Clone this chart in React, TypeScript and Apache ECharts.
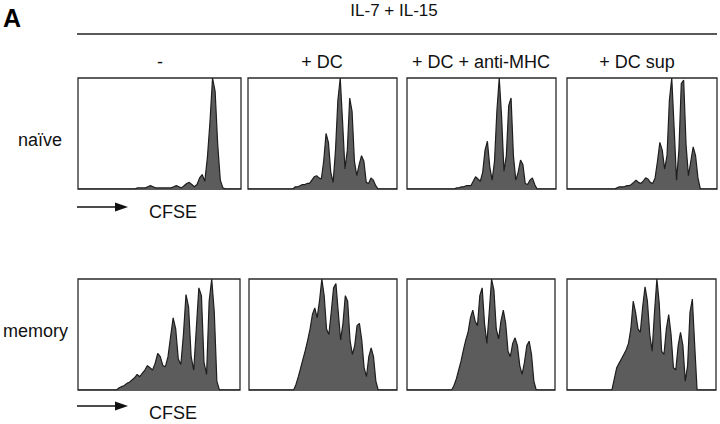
import React, { useEffect, useRef } from "react";
import * as echarts from "echarts";

// CFSE channel bins (categories)
const channels: string[] = Array.from({ length: 64 }, (_, i) => String(i));

const conditions = ["-", "+ DC", "+ DC + anti-MHC", "+ DC sup"];
const rowLabels = ["naïve", "memory"];
const headerLabel = "IL-7 + IL-15";
const panelLetter = "A";
const axisLabel = "CFSE";

// naïve row (cell counts, % of panel max)
const naiveNone = [
  0, 0, 0, 0, 0, 0, 0, 0, 0, 0, 0, 0, 0, 0, 0, 0, 0, 0, 0, 0, 0, 0, 0,
  1, 1, 1, 1, 2, 3, 2, 1, 1, 1, 1, 1, 1, 1, 2, 3, 2, 1, 3, 5, 6, 4, 2, 4, 10, 13, 7, 28, 60, 100, 88, 40, 8, 1,
  0, 0, 0, 0, 0, 0, 0,
];
const naiveDC = [
  0, 0, 0, 0, 0, 0, 0, 0, 0, 0, 0, 0, 0, 0, 0, 0, 0, 0, 0, 0,
  2, 2, 3, 4, 4, 5, 5, 8, 11, 12, 10, 9, 25, 50, 42, 15, 6, 35, 80, 100, 60, 18, 35, 82, 70, 25, 12, 22, 30, 25, 6, 5, 10, 8, 3,
  0, 0, 0, 0, 0, 0, 0, 0, 0,
];
const naiveDCantiMHC = [
  0, 0, 0, 0, 0, 0, 0, 0, 0, 0, 0, 0, 0, 0, 0, 0, 0, 0, 0, 0, 0,
  1, 1, 2, 2, 3, 3, 3, 7, 11, 9, 7, 15, 35, 43, 20, 8, 25, 70, 100, 65, 16, 30, 75, 82, 30, 8, 15, 26, 22, 5, 4, 8, 10, 4,
  0, 0, 0, 0, 0, 0, 0, 0, 0,
];
const naiveDCsup = [
  0, 0, 0, 0, 0, 0, 0, 0, 0, 0, 0, 0, 0, 0, 0, 0, 0, 0, 0, 0, 0,
  1, 2, 2, 2, 3, 3, 4, 6, 8, 6, 5, 7, 10, 9, 6, 5, 10, 25, 42, 35, 18, 30, 80, 100, 55, 8, 35, 95, 98, 40, 12, 25, 38, 30, 10,
  0, 0, 0, 0, 0, 0, 0, 0,
];

// memory row
const memoryNone = [
  0, 0, 0, 0, 0, 0, 0, 0, 0, 0, 0, 0, 0, 0, 0, 0,
  2, 3, 4, 6, 7, 9, 11, 14, 12, 15, 18, 22, 20, 18, 24, 33, 30, 22, 21, 30, 48, 65, 55, 28, 23, 50, 86, 75, 30, 18, 55, 92, 85, 25, 14, 80, 100, 70, 8,
  0, 0, 0, 0, 0, 0, 0, 0, 0,
];
const memoryDC = [
  0, 0, 0, 0, 0, 0, 0, 0, 0, 0, 0, 0, 0, 0, 0, 0, 0, 0, 0, 0,
  5, 12, 20, 28, 36, 45, 55, 68, 74, 65, 80, 100, 85, 55, 50, 70, 92, 96, 70, 45, 60, 85, 80, 45, 32, 40, 58, 60, 45, 20, 12, 30, 38, 30, 8,
  0, 0, 0, 0, 0, 0, 0, 0, 0,
];
const memoryDCantiMHC = [
  0, 0, 0, 0, 0, 0, 0, 0, 0, 0, 0, 0, 0, 0, 0, 0, 0, 0, 0, 0,
  4, 10, 18, 26, 36, 45, 52, 65, 72, 62, 58, 85, 92, 60, 42, 70, 100, 90, 55, 46, 62, 72, 60, 35, 30, 42, 47, 40, 22, 14, 25, 40, 44, 32, 8,
  0, 0, 0, 0, 0, 0, 0, 0, 0,
];
const memoryDCsup = [
  0, 0, 0, 0, 0, 0, 0, 0, 0, 0, 0, 0, 0, 0, 0, 0, 0, 0, 0, 0,
  10, 20, 24, 28, 32, 36, 42, 55, 80, 70, 55, 52, 75, 93, 80, 50, 35, 70, 100, 78, 35, 32, 55, 68, 50, 20, 18, 40, 52, 40, 8, 22, 70, 82, 40,
  0, 0, 0, 0, 0, 0, 0, 0, 0,
];

const panelData = [
  [naiveNone, naiveDC, naiveDCantiMHC, naiveDCsup],
  [memoryNone, memoryDC, memoryDCantiMHC, memoryDCsup],
];

// layout (pixels)
const rowTops = [78, 279];
const panelH = 111;
const colRects = [
  [
    [78, 163],
    [248, 149],
    [407, 149],
    [567, 150],
  ],
  [
    [78, 162],
    [249, 148],
    [407, 148],
    [567, 149],
  ],
];
const colCenters = [160, 322, 481, 637];

const FONT = '"Liberation Sans", Arial, Helvetica, sans-serif';

export default function App() {
  const ref = useRef<HTMLDivElement>(null);
  useEffect(() => {
    if (!ref.current) return;
    const chart = echarts.init(ref.current, null, { renderer: "svg" });
    const grids: any[] = [];
    const xAxes: any[] = [];
    const yAxes: any[] = [];
    const series: any[] = [];
    let k = 0;
    for (let r = 0; r < 2; r++) {
      for (let c = 0; c < 4; c++) {
        const [left, width] = colRects[r][c];
        grids.push({
          left,
          top: rowTops[r],
          width,
          height: panelH,
          show: true,
          borderColor: "#2a2a2a",
          borderWidth: 1.3,
          backgroundColor: "#ffffff",
        });
        xAxes.push({
          type: "category",
          gridIndex: k,
          data: channels,
          boundaryGap: false,
          show: false,
        });
        yAxes.push({ type: "value", gridIndex: k, min: 0, max: 100, show: false });
        series.push({
          type: "line",
          xAxisIndex: k,
          yAxisIndex: k,
          data: panelData[r][c],
          symbol: "none",
          silent: true,
          lineStyle: { color: "#1e1e1e", width: 1.2 },
          areaStyle: { color: "#5c5c5c", opacity: 1 },
        });
        k++;
      }
    }

    const graphics: any[] = [
      {
        type: "text",
        left: 3,
        top: 5,
        style: { text: panelLetter, font: `bold 25px ${FONT}`, fill: "#000" },
      },
      {
        type: "text",
        x: 394,
        y: 10,
        style: {
          text: headerLabel,
          font: `17px ${FONT}`,
          fill: "#111",
          textAlign: "center",
          textVerticalAlign: "middle",
        },
      },
      {
        type: "line",
        shape: { x1: 77, y1: 34, x2: 717, y2: 34 },
        style: { stroke: "#222", lineWidth: 1.5 },
      },
    ];
    conditions.forEach((t, i) => {
      graphics.push({
        type: "text",
        x: colCenters[i],
        y: 62,
        style: {
          text: t,
          font: `18px ${FONT}`,
          fill: "#111",
          textAlign: "center",
          textVerticalAlign: "middle",
        },
      });
    });
    const rowLabelPos = [
      [18, 140],
      [3, 331],
    ];
    rowLabels.forEach((t, i) => {
      graphics.push({
        type: "text",
        x: rowLabelPos[i][0],
        y: rowLabelPos[i][1],
        style: {
          text: t,
          font: `18px ${FONT}`,
          fill: "#111",
          textAlign: "left",
          textVerticalAlign: "middle",
        },
      });
    });
    const arrowY = [207, 406];
    const cfseY = [212, 413];
    for (let r = 0; r < 2; r++) {
      const y = arrowY[r];
      graphics.push({
        type: "line",
        shape: { x1: 77, y1: y, x2: 118, y2: y },
        style: { stroke: "#111", lineWidth: 1.5 },
      });
      graphics.push({
        type: "polygon",
        shape: {
          points: [
            [115, y - 4.5],
            [128, y],
            [115, y + 4.5],
          ],
        },
        style: { fill: "#111" },
      });
      graphics.push({
        type: "text",
        x: 149,
        y: cfseY[r],
        style: {
          text: axisLabel,
          font: `18px ${FONT}`,
          fill: "#111",
          textAlign: "left",
          textVerticalAlign: "middle",
        },
      });
    }

    chart.setOption({
      animation: false,
      backgroundColor: "#ffffff",
      grid: grids,
      xAxis: xAxes,
      yAxis: yAxes,
      series,
      graphic: graphics,
    });
    return () => chart.dispose();
  }, []);
  return (
    <div
      ref={ref}
      style={{ position: "fixed", left: 0, top: 0, width: 720, height: 424 }}
    />
  );
}
